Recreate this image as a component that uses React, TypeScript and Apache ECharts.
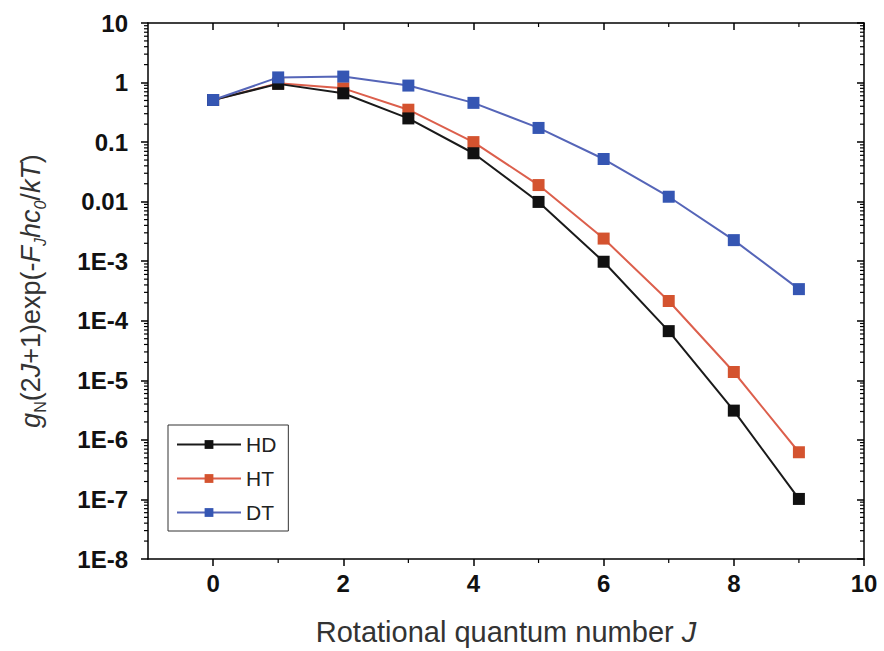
import React, { useEffect, useRef } from "react";
import * as echarts from "echarts";

const J = [0, 1, 2, 3, 4, 5, 6, 7, 8, 9];
const HD = [0.51, 0.95, 0.66, 0.25, 0.065, 0.0099, 9.8e-4, 6.7e-5, 3.1e-6, 1.02e-7];
const HT = [0.51, 0.97, 0.8, 0.35, 0.1, 0.019, 0.0024, 2.15e-4, 1.38e-5, 6.2e-7];
const DT = [0.51, 1.22, 1.26, 0.89, 0.456, 0.173, 0.052, 0.0121, 0.00226, 3.4e-4];
const SERIES_NAMES = ["HD", "HT", "DT"];
const X_MAJOR = [0, 2, 4, 6, 8, 10];
const X_MINOR = [1, 3, 5, 7, 9];
const Y_DECADES = [-8, -7, -6, -5, -4, -3, -2, -1, 0];
const Y_MINOR_MULT = [2, 3, 4, 5, 6, 7, 8, 9];

const FONT = "Liberation Sans, Arial, sans-serif";

function fmtLog(v: number): string {
  const e = Math.round(Math.log10(v));
  if (e >= 0) return String(Math.round(Math.pow(10, e)));
  if (e >= -2) return Math.pow(10, e).toFixed(-e);
  return "1E" + e;
}

export default function App() {
  const ref = useRef<HTMLDivElement>(null);
  useEffect(() => {
    if (!ref.current) return;
    const chart = echarts.init(ref.current, null, { renderer: "svg" });

    const minorData: number[][] = [];
    Y_DECADES.forEach((e) => {
      Y_MINOR_MULT.forEach((m) => {
        minorData.push([-1, m * Math.pow(10, e), 0]);
      });
    });
    X_MINOR.forEach((x) => minorData.push([x, 1, 1]));

    const tickStyle = { stroke: "#000", lineWidth: 1.2 };
    const axisLineStyle = { color: "#000", width: 1.5 };

    const common = {
      type: "line",
      symbol: "rect",
      symbolSize: 12,
      xAxisIndex: 0,
      yAxisIndex: 0,
    };

    chart.setOption({
      animation: false,
      backgroundColor: "#fff",
      grid: { left: 148, right: 20, top: 23, bottom: 92 },
      legend: {
        data: SERIES_NAMES,
        orient: "vertical",
        left: 168,
        top: 425,
        itemWidth: 64,
        itemHeight: 11,
        itemGap: 13,
        padding: [9, 12, 8, 8],
        borderColor: "#333",
        borderWidth: 1,
        textStyle: { fontFamily: FONT, fontSize: 21, color: "#222" },
      },
      xAxis: [
        {
          type: "value",
          position: "bottom",
          min: -1,
          max: 10,
          name: "Rotational quantum number {i|J}",
          nameLocation: "middle",
          nameGap: 58,
          nameTextStyle: {
            fontFamily: FONT,
            fontSize: 29,
            color: "#333",
            rich: { i: { fontFamily: FONT, fontSize: 29, fontStyle: "italic", color: "#333" } },
          },
          axisLine: { show: true, onZero: false, lineStyle: axisLineStyle },
          axisTick: { show: true, inside: false, length: 7, customValues: X_MAJOR, lineStyle: axisLineStyle },
          axisLabel: {
            customValues: X_MAJOR,
            margin: 12,
            fontFamily: FONT,
            fontWeight: "bold",
            fontSize: 24,
            color: "#111",
          },
          splitLine: { show: false },
        },
        {
          type: "value",
          position: "top",
          min: -1,
          max: 10,
          axisLine: { show: true, onZero: false, lineStyle: axisLineStyle },
          axisTick: { show: true, inside: true, length: 7, customValues: X_MAJOR, lineStyle: axisLineStyle },
          axisLabel: { show: false },
          splitLine: { show: false },
        },
      ],
      yAxis: [
        {
          type: "log",
          logBase: 10,
          position: "left",
          min: 1e-8,
          max: 10,
          interval: 1,
          name:
            "{i|g}{s|N}{n|(2}{i|J}{n|+1)exp(-}{i|F}{si|J}{i|hc}{si|0}{n|/}{i|kT}{n|)}",
          nameLocation: "middle",
          nameGap: 100,
          nameTextStyle: {
            fontFamily: FONT,
            fontSize: 27,
            color: "#333",
            rich: {
              n: { fontFamily: FONT, fontSize: 27, color: "#333", lineHeight: 34, verticalAlign: "middle" },
              i: { fontFamily: FONT, fontSize: 27, fontStyle: "italic", color: "#333", lineHeight: 34, verticalAlign: "middle" },
              s: { fontFamily: FONT, fontSize: 16, color: "#333", lineHeight: 16, verticalAlign: "bottom" },
              si: { fontFamily: FONT, fontSize: 16, fontStyle: "italic", color: "#333", lineHeight: 16, verticalAlign: "bottom" },
            },
          },
          axisLine: { show: true, onZero: false, lineStyle: axisLineStyle },
          axisTick: { show: true, inside: false, length: 7, lineStyle: axisLineStyle },
          axisLabel: {
            formatter: fmtLog,
            margin: 20,
            fontFamily: FONT,
            fontWeight: "bold",
            fontSize: 24,
            color: "#111",
          },
          splitLine: { show: false },
        },
        {
          type: "log",
          logBase: 10,
          position: "right",
          min: 1e-8,
          max: 10,
          interval: 1,
          axisLine: { show: true, onZero: false, lineStyle: axisLineStyle },
          axisTick: { show: true, inside: true, length: 7, lineStyle: axisLineStyle },
          axisLabel: { show: false },
          splitLine: { show: false },
        },
      ],
      series: [
        {
          type: "custom",
          name: "minorTicks",
          xAxisIndex: 0,
          yAxisIndex: 0,
          silent: true,
          clip: false,
          data: minorData,
          renderItem: (params: any, api: any) => {
            const kind = api.value(2);
            if (kind === 0) {
              const v = api.value(1);
              const l = api.coord([-1, v]);
              const r = api.coord([10, v]);
              return {
                type: "group",
                children: [
                  { type: "line", shape: { x1: l[0], y1: l[1], x2: l[0] - 4, y2: l[1] }, style: tickStyle },
                  { type: "line", shape: { x1: r[0], y1: r[1], x2: r[0] - 4, y2: r[1] }, style: tickStyle },
                ],
              };
            }
            const x = api.value(0);
            const b = api.coord([x, 1e-8]);
            const t = api.coord([x, 10]);
            return {
              type: "group",
              children: [
                { type: "line", shape: { x1: b[0], y1: b[1], x2: b[0], y2: b[1] + 4 }, style: tickStyle },
                { type: "line", shape: { x1: t[0], y1: t[1], x2: t[0], y2: t[1] + 4 }, style: tickStyle },
              ],
            };
          },
          z: 1,
        },
        {
          ...common,
          name: "HD",
          data: J.map((j, i) => [j, HD[i]]),
          itemStyle: { color: "#111111" },
          lineStyle: { color: "#1a1a1a", width: 2 },
          z: 4,
        },
        {
          ...common,
          name: "HT",
          data: J.map((j, i) => [j, HT[i]]),
          itemStyle: { color: "#d4532f" },
          lineStyle: { color: "#dc5f4c", width: 2 },
          z: 3,
        },
        {
          ...common,
          name: "DT",
          data: J.map((j, i) => [j, DT[i]]),
          itemStyle: { color: "#3556b3" },
          lineStyle: { color: "#5565b8", width: 2 },
          z: 5,
        },
      ],
    });
    return () => chart.dispose();
  }, []);
  return (
    <div
      ref={ref}
      style={{ position: "absolute", left: 0, top: 0, width: 884, height: 651 }}
    />
  );
}
